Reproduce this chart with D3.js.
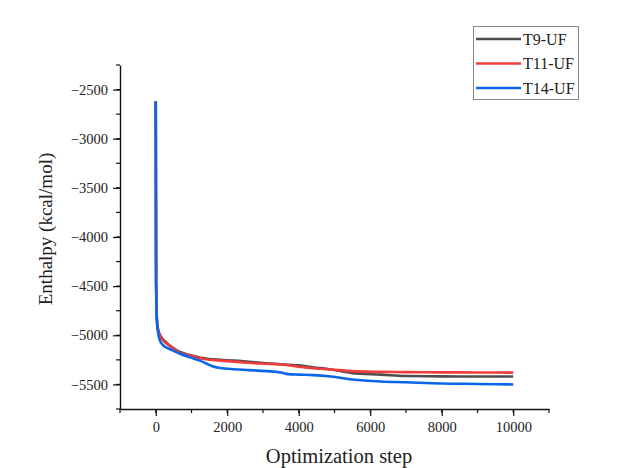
<!DOCTYPE html>
<html>
<head>
<meta charset="utf-8">
<script src="https://cdn.jsdelivr.net/npm/d3@7"></script>
<style>
  html, body { margin: 0; padding: 0; background: #fff; }
  svg { display: block; }
  text { font-family: "Liberation Serif", "DejaVu Serif", serif; fill: #222; }
</style>
</head>
<body>
<svg id="chart" width="622" height="468"></svg>
<script>
// Optimization steps sampled along each run
const steps = [0, 10, 30, 60, 112, 200, 300, 450, 600, 800, 1000, 1250, 1400, 1600, 1800,
               2200, 2600, 3100, 3500, 3700, 4000, 4400, 4900, 5500, 6300, 7000, 8000, 9000, 10000];

// Enthalpy (kcal/mol) per run
const t9 = [-2620, -4450, -4820, -4930, -4990, -5040, -5075, -5120, -5155, -5185, -5205, -5228, -5236, -5244, -5250,
            -5258, -5270, -5285, -5295, -5300, -5305, -5325, -5348, -5385, -5400, -5415, -5418, -5419, -5420];
const t11 = [-2620, -4450, -4830, -4940, -5000, -5050, -5085, -5125, -5160, -5195, -5212, -5235, -5243, -5252, -5258,
             -5268, -5280, -5290, -5298, -5305, -5320, -5335, -5348, -5365, -5372, -5375, -5377, -5378, -5380];
const t14 = [-2620, -4450, -4850, -4960, -5050, -5100, -5125, -5150, -5175, -5205, -5230, -5260, -5285, -5318, -5333,
             -5346, -5354, -5365, -5378, -5395, -5400, -5405, -5420, -5450, -5470, -5478, -5490, -5495, -5500];

const seriesNames = ["T9-UF", "T11-UF", "T14-UF"];
const seriesColors = ["#4d4d4d", "#f23c3c", "#0a66e8"];
const seriesValues = [t9, t11, t14];

const xTicks = [0, 2000, 4000, 6000, 8000, 10000];
const yTicks = [-2500, -3000, -3500, -4000, -4500, -5000, -5500];

const svg = d3.select("#chart");
const x = d3.scaleLinear().domain([-1000, 11000]).range([120, 549]);
const y = d3.scaleLinear().domain([-5750, -2250]).range([409, 65]);

const fmt = d => d < 0 ? "\u2212" + Math.abs(d) : String(d);

// minor ticks
const gx = svg.append("g").attr("transform", "translate(0,409)");
gx.selectAll("line.minor").data(d3.range(-1000, 11001, 1000))
  .join("line").attr("x1", d => x(d)).attr("x2", d => x(d))
  .attr("y1", 0).attr("y2", 4).attr("stroke", "#111").attr("stroke-width", 1.2);
const gy = svg.append("g").attr("transform", "translate(120,0)");
gy.selectAll("line.minor").data(d3.range(-5750, -2249, 250))
  .join("line").attr("y1", d => y(d)).attr("y2", d => y(d))
  .attr("x1", 0).attr("x2", -4).attr("stroke", "#111").attr("stroke-width", 1.2);

// axes
const xAxis = d3.axisBottom(x).tickValues(xTicks).tickSize(7).tickSizeOuter(0).tickPadding(6).tickFormat(fmt);
const yAxis = d3.axisLeft(y).tickValues(yTicks).tickSize(7).tickSizeOuter(0).tickPadding(5).tickFormat(fmt);
const ax = svg.append("g").attr("transform", "translate(0,409)").call(xAxis);
const ay = svg.append("g").attr("transform", "translate(120,0)").call(yAxis);
[ax, ay].forEach(g => {
  g.select(".domain").attr("stroke", "#111").attr("stroke-width", 1.4);
  g.selectAll(".tick line").attr("stroke", "#111").attr("stroke-width", 1.2);
  g.selectAll(".tick text").style("font-family", "'Liberation Serif', serif").style("font-size", "14.5px").attr("fill", "#333");
});

// lines
const line = d3.line().x((d, i) => x(steps[i])).y(d => y(d)).curve(d3.curveMonotoneX);
seriesValues.forEach((vals, k) => {
  svg.append("path").datum(vals).attr("d", line)
    .attr("fill", "none").attr("stroke", seriesColors[k])
    .attr("stroke-width", 2.6).attr("stroke-linejoin", "round");
});

// axis titles
svg.append("text").attr("x", 339).attr("y", 463).attr("text-anchor", "middle")
  .style("font-size", "20.5px").text("Optimization step");
svg.append("text").attr("transform", "translate(52,229) rotate(-90)").attr("text-anchor", "middle")
  .style("font-size", "19px").text("Enthalpy (kcal/mol)");

// legend
const lg = svg.append("g");
lg.append("rect").attr("x", 473.5).attr("y", 26.5).attr("width", 105).attr("height", 73)
  .attr("fill", "#fff").attr("stroke", "#888").attr("stroke-width", 1);
seriesNames.forEach((name, k) => {
  const ly = 39 + k * 24.5;
  lg.append("line").attr("x1", 476).attr("x2", 521).attr("y1", ly).attr("y2", ly)
    .attr("stroke", seriesColors[k]).attr("stroke-width", 2.6);
  lg.append("text").attr("x", 523).attr("y", ly + 5.5).style("font-size", "16px").text(name);
});
</script>
</body>
</html>
